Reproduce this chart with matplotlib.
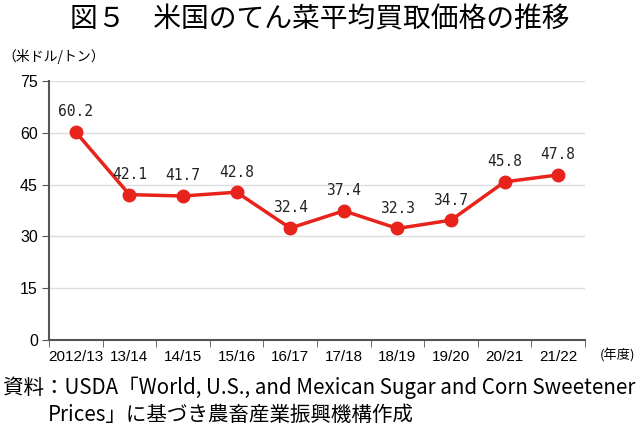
import matplotlib
matplotlib.use("Agg")
import matplotlib.pyplot as plt
from matplotlib import font_manager as fm

categories = ["2012/13", "13/14", "14/15", "15/16", "16/17", "17/18", "18/19", "19/20", "20/21", "21/22"]
values = [60.2, 42.1, 41.7, 42.8, 32.4, 37.4, 32.3, 34.7, 45.8, 47.8]
yticks = [0, 15, 30, 45, 60, 75]

names = {f.name for f in fm.fontManager.ttflist}
narrow = "Liberation Sans Narrow" if "Liberation Sans Narrow" in names else "Liberation Sans"
cjk = ["Noto Sans CJK JP", "DejaVu Sans"]

fig = plt.figure(figsize=(6.4, 4.32), dpi=100)
ax = fig.add_axes([49/640, 1-340/432, 536/640, 259/432])

x = list(range(len(categories)))
ax.plot(x, values, color="#e8231c", lw=2.5, marker="o", ms=9, zorder=3)
for xi, v in zip(x, values):
    ax.annotate(f"{v:.1f}", (xi, v), xytext=(0, 14.5), textcoords="offset points",
                ha="center", va="center", fontsize=10.5, family="DejaVu Sans Mono",
                color="#222222")

ax.set_xlim(-0.5, len(categories) - 0.5)
ax.set_ylim(0, 75)
ax.set_yticks(yticks)
ax.set_yticklabels([str(t) for t in yticks], family=narrow, fontsize=11.5)
ax.set_xticks(x)
ax.set_xticklabels(categories, family=narrow, fontsize=11)
ax.set_xticks([i - 0.5 for i in range(len(categories) + 1)], minor=True)
ax.tick_params(axis="x", which="major", length=0, pad=7)
ax.tick_params(axis="x", which="minor", length=5, direction="out", color="#555555")
ax.tick_params(axis="y", length=5, direction="out", color="#555555", pad=3)
ax.grid(axis="y", color="#dddddd", lw=1)
ax.set_axisbelow(True)
for s in ["top", "right"]:
    ax.spines[s].set_visible(False)
for s in ["left", "bottom"]:
    ax.spines[s].set_color("#555555")
    ax.spines[s].set_linewidth(1.5)

fig.text(0.5, 1-19/432, "図５　米国のてん菜平均買取価格の推移", ha="center", va="center",
         fontsize=20, family=cjk)
fig.text(2/640, 1-57/432, "（米ドル/トン）", ha="left", va="center", fontsize=10, family=cjk)
fig.text(600/640, 1-355/432, "(年度)", ha="left", va="center", fontsize=9.5, family=cjk)
fig.text(3/640, 1-388/432, "資料：USDA「World, U.S., and Mexican Sugar and Corn Sweetener",
         ha="left", va="center", fontsize=14.8, family=cjk)
fig.text(48/640, 1-415/432, "Prices」に基づき農畜産業振興機構作成",
         ha="left", va="center", fontsize=14.8, family=cjk)

fig.savefig("out.png", dpi=100)
